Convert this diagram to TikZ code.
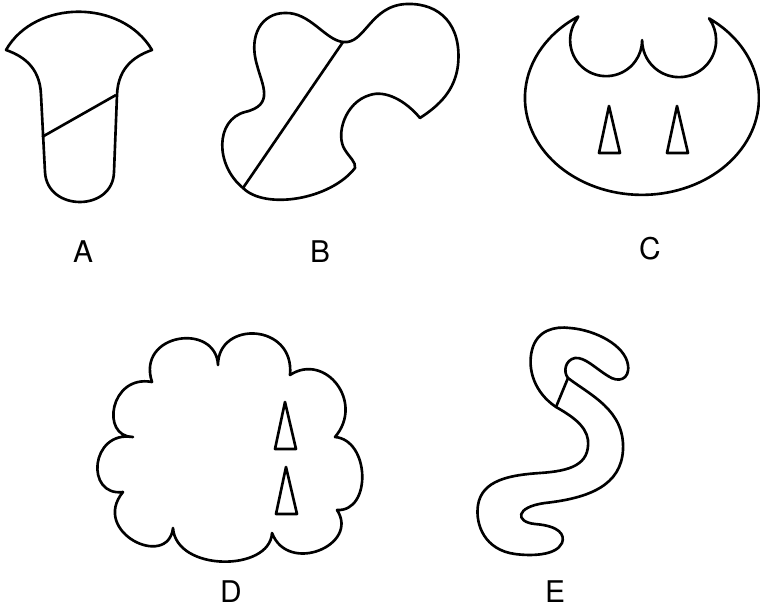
\documentclass[tikz,border=0pt]{standalone}
\usepackage{fontspec}
\setmainfont{TeX Gyre Heros}
\usepackage{tikz}
\usetikzlibrary{positioning}

\begin{document}
\begin{tikzpicture}[x=0.02cm, y=-0.02cm, line width=1.5pt, line join=round,
  outline/.style={draw=black, line width=1.5pt},
  letter/.style={font=\fontsize{17}{20}\selectfont, inner sep=0pt}]
\useasboundingbox (0,0) rectangle (760,614);
% A: bell shape with a slanted cut
\draw[outline] (6,50) .. controls (35,-1) and (122,-1) .. (152,50)
  .. controls (138,55) and (118,65) .. (117,95) -- (114,172)
  .. controls (113,212) and (47,212) .. (45,172) -- (41,95)
  .. controls (40,65) and (20,55) .. (6,50) -- cycle;
\draw[outline] (42,137) -- (116,95);
% B: bone shape, cut along the diagonal
\draw[outline] (343,42) .. controls (365,45) and (370,5) .. (407,4)
  .. controls (440,3) and (462,25) .. (458,65)
  .. controls (455,90) and (440,105) .. (420,118)
  .. controls (405,100) and (385,90) .. (370,95)
  .. controls (345,102) and (335,135) .. (345,150)
  .. controls (350,158) and (356,162) .. (355,168)
  .. controls (330,200) and (265,210) .. (243,188)
  .. controls (215,165) and (215,120) .. (245,112)
  .. controls (275,105) and (262,85) .. (257,65)
  .. controls (248,35) and (262,13) .. (285,13)
  .. controls (310,12) and (325,40) .. (343,42) -- cycle;
\draw[outline] (343,42) -- (243,188);
% C: oval with two scallops cut out of the top
\draw[outline] (577,19) arc[start angle=216, end angle=0, radius=36]
  arc[start angle=180, end angle=-36, radius=37]
  arc[start angle=-55, end angle=237, x radius=117, y radius=97] -- cycle;
% D: cloud outline, cusp to cusp
\draw[outline] (152,382) .. controls (136,333) and (216,322) .. (218,365)
  .. controls (218,320) and (295,323) .. (290,375)
  .. controls (325,352) and (365,402) .. (335,437)
  .. controls (370,440) and (372,512) .. (337,510)
  .. controls (360,545) and (288,575) .. (272,533)
  .. controls (270,572) and (176,572) .. (173,528)
  .. controls (168,570) and (90,532) .. (123,492)
  .. controls (85,497) and (90,430) .. (133,437)
  .. controls (100,437) and (110,374) .. (152,382) -- cycle;
% E: worm with a short cross cut below the head
\draw[outline] (556,407) .. controls (535,393) and (527,370) .. (532,350)
  .. controls (537,330) and (555,326) .. (570,328)
  .. controls (595,330) and (625,345) .. (628,365)
  .. controls (630,380) and (618,383) .. (608,376)
  .. controls (595,368) and (585,357) .. (575,358)
  .. controls (565,360) and (563,372) .. (568,378)
  .. controls (590,395) and (625,410) .. (623,450)
  .. controls (621,485) and (590,498) .. (545,503)
  .. controls (515,507) and (515,522) .. (535,524)
  .. controls (560,526) and (565,535) .. (562,543)
  .. controls (556,556) and (530,556) .. (515,554)
  .. controls (485,550) and (475,525) .. (478,505)
  .. controls (482,480) and (510,475) .. (540,473)
  .. controls (570,471) and (590,465) .. (588,440)
  .. controls (586,425) and (570,415) .. (556,407) -- cycle;
\draw[outline] (568,378) -- (556,407);
% small triangles (apex given)
\foreach \x/\y in {609/106, 677/106, 285/402, 286/467}
  \draw[outline] (\x,\y) -- ++(-10,47) -- ++(21,0) -- cycle;
% letters
\node[letter] (labA) at (83,252) {A};
\node[letter] (labB) at (320,252) {B};
\node[letter] (labC) at (650,249) {C};
\node[letter] (labD) at (231,592) {D};
\node[letter] (labE) at (555,592) {E};
\end{tikzpicture}
\end{document}
